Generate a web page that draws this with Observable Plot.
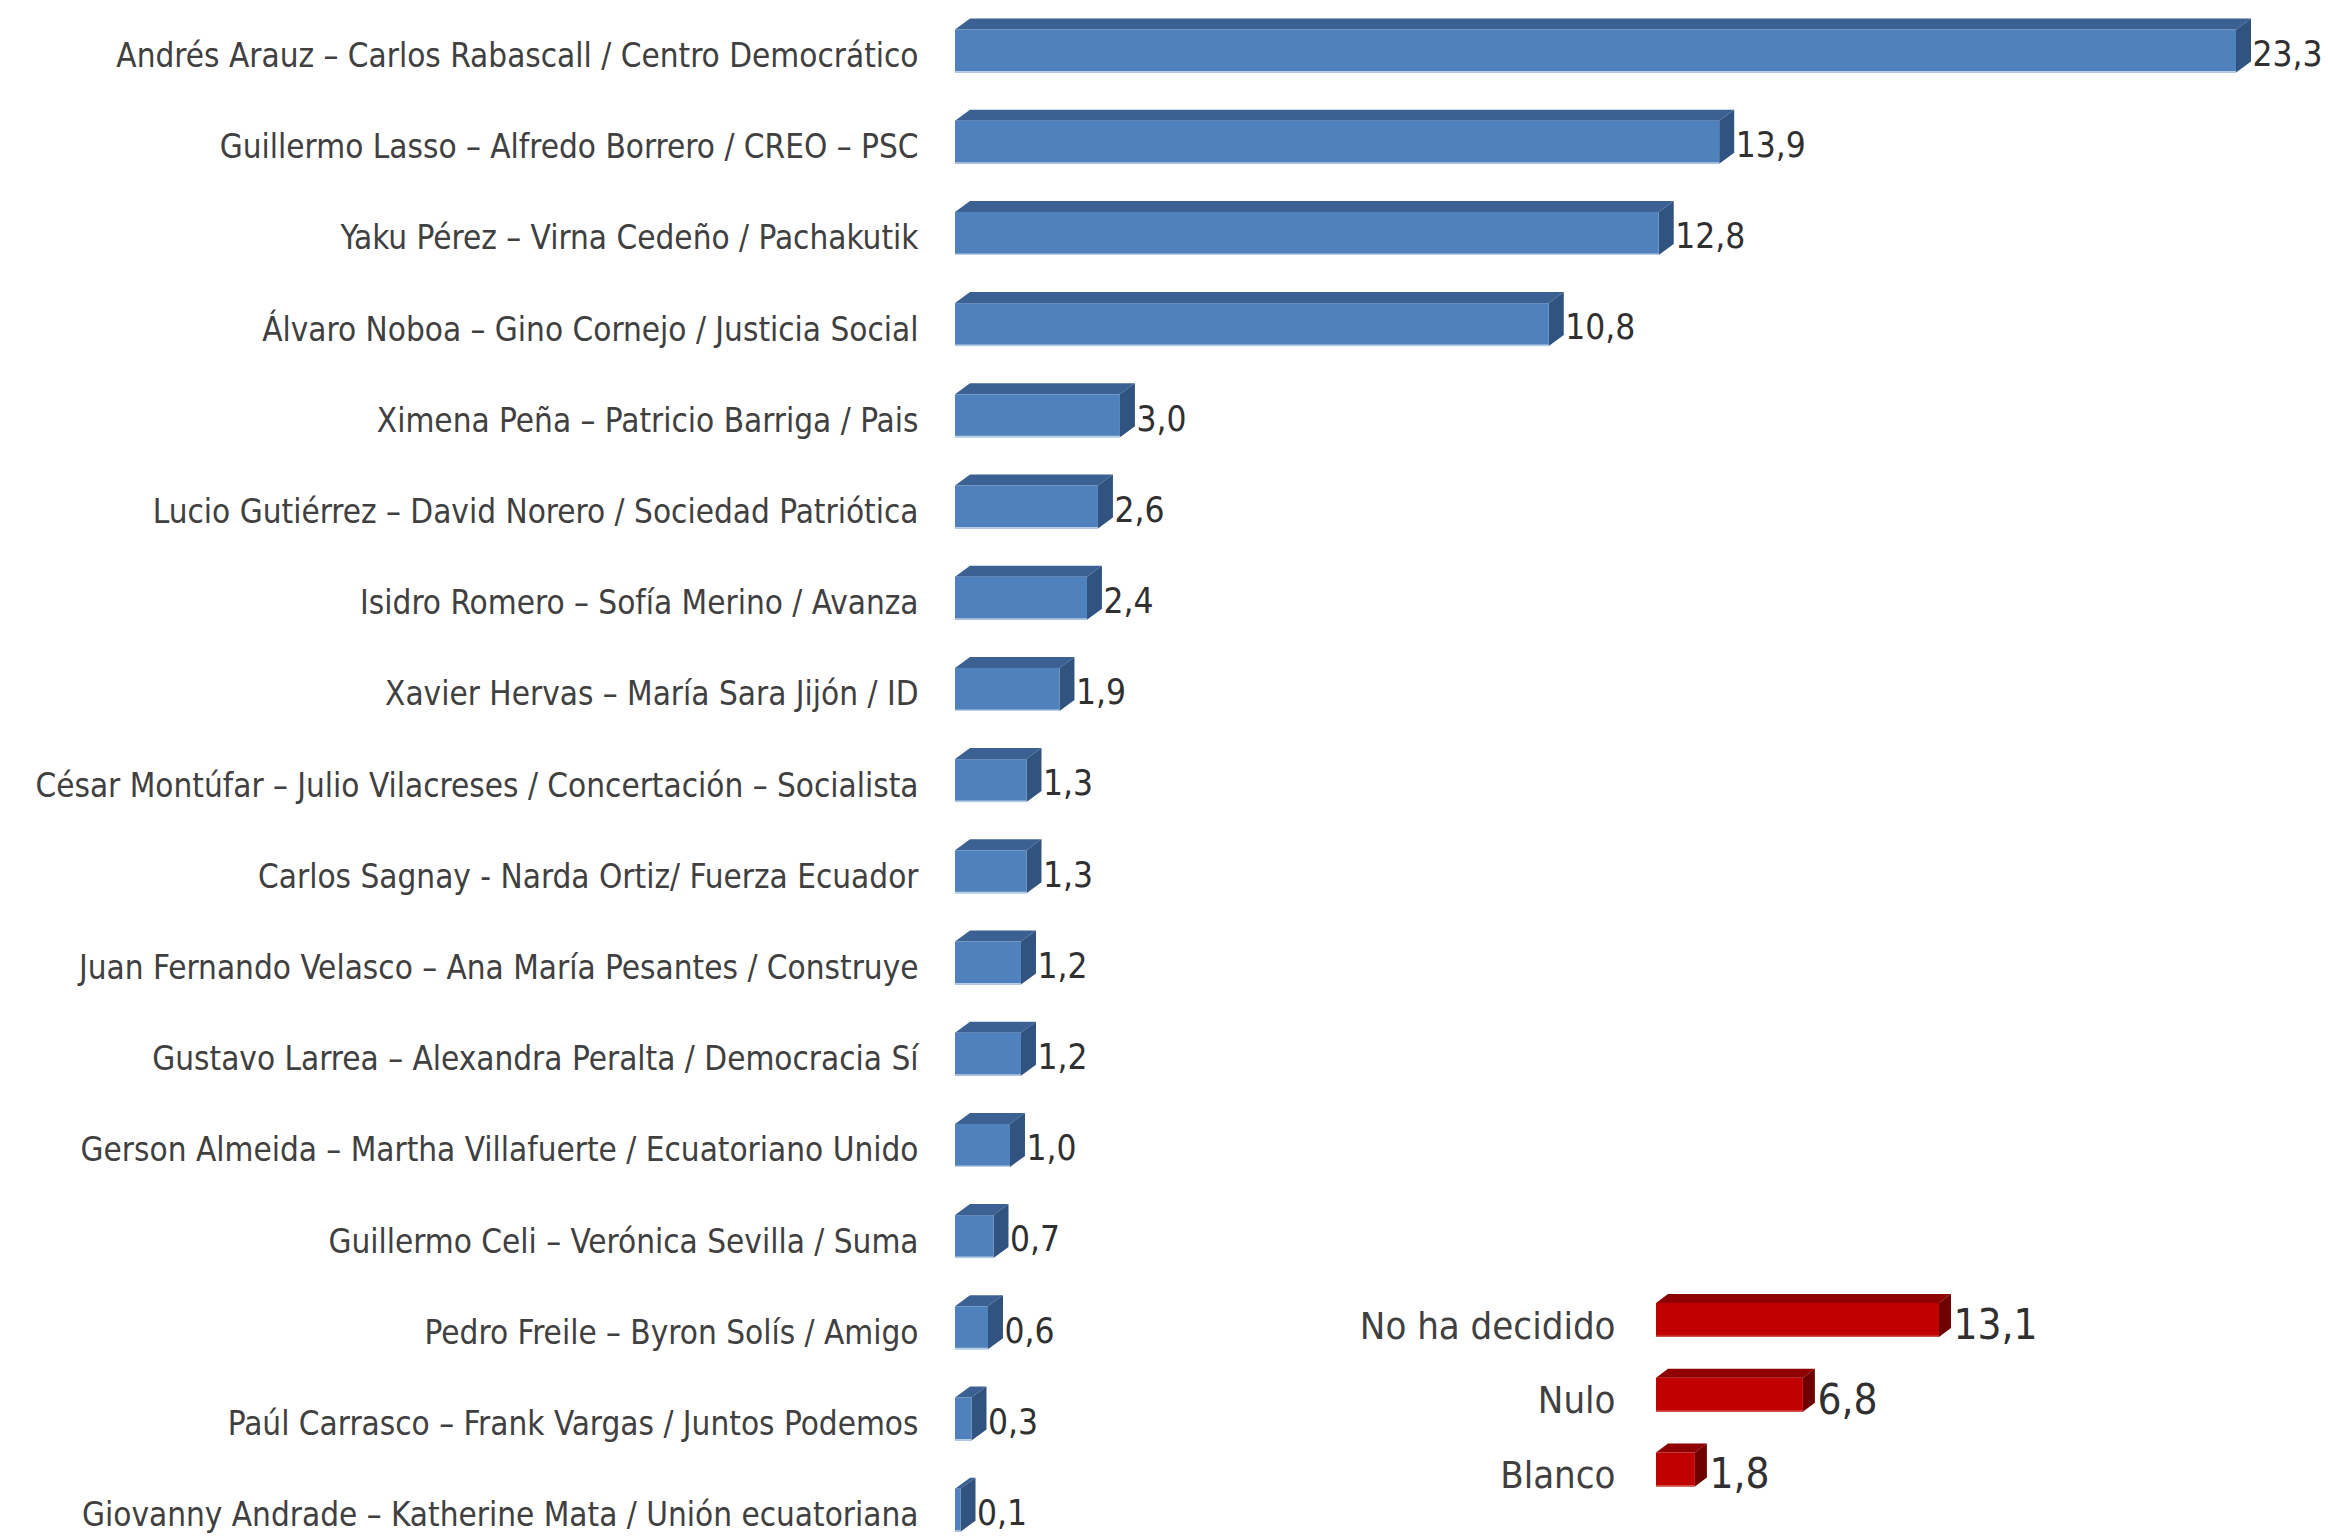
<!DOCTYPE html>
<html><head><meta charset="utf-8">
<script src="https://cdn.jsdelivr.net/npm/d3@7"></script>
<script src="https://cdn.jsdelivr.net/npm/@observablehq/plot@0.6"></script>
<style>
html,body{margin:0;padding:0;background:#fff;}
#wrap{position:relative;width:2328px;height:1537px;overflow:hidden;}
#wrap svg{position:absolute;left:0;top:0;}
#wrap svg text{font-family:"DejaVu Sans",sans-serif;font-stretch:condensed;}
</style></head><body><div id="wrap"></div>
<script>
const candidates = [
  "Andrés Arauz – Carlos Rabascall / Centro Democrático",
  "Guillermo Lasso – Alfredo Borrero / CREO – PSC",
  "Yaku Pérez – Virna Cedeño / Pachakutik",
  "Álvaro Noboa – Gino Cornejo / Justicia Social",
  "Ximena Peña – Patricio Barriga / Pais",
  "Lucio Gutiérrez – David Norero / Sociedad Patriótica",
  "Isidro Romero – Sofía Merino / Avanza",
  "Xavier Hervas – María Sara Jijón / ID",
  "César Montúfar – Julio Vilacreses / Concertación – Socialista",
  "Carlos Sagnay - Narda Ortiz/ Fuerza Ecuador",
  "Juan Fernando Velasco – Ana María Pesantes / Construye",
  "Gustavo Larrea – Alexandra Peralta / Democracia Sí",
  "Gerson Almeida – Martha Villafuerte / Ecuatoriano Unido",
  "Guillermo Celi – Verónica Sevilla / Suma",
  "Pedro Freile – Byron Solís / Amigo",
  "Paúl Carrasco – Frank Vargas / Juntos Podemos",
  "Giovanny Andrade – Katherine Mata / Unión ecuatoriana"
];
const candidateValues = [23.3, 13.9, 12.8, 10.8, 3.0, 2.6, 2.4, 1.9, 1.3, 1.3, 1.2, 1.2, 1.0, 0.7, 0.6, 0.3, 0.1];
const otherCategories = ["No ha decidido", "Nulo", "Blanco"];
const otherValues = [13.1, 6.8, 1.8];

const fmt = v => v.toFixed(1).replace(".", ",");
const blueData = candidates.map((name, i) => ({name, value: candidateValues[i]}));
const redData = otherCategories.map((name, i) => ({name, value: otherValues[i]}));

function box3d({front, top, side, edge, dx, dy}) {
  return function(index, scales, values) {
    const g = d3.create("svg:g");
    const bw = scales.y.bandwidth();
    for (const i of index) {
      const x1 = values.x1[i], x2 = values.x2[i], y0 = values.y[i], y1 = y0 + bw;
      g.append("path")
        .attr("d", `M${x1},${y0}L${x2},${y0}L${x2 + dx},${y0 - dy}L${x1 + dx},${y0 - dy}Z`)
        .attr("fill", top);
      g.append("path")
        .attr("d", `M${x2},${y0}L${x2 + dx},${y0 - dy}L${x2 + dx},${y1 - dy}L${x2},${y1}Z`)
        .attr("fill", side);
      g.append("rect")
        .attr("x", x1).attr("y", y0).attr("width", Math.max(0, x2 - x1)).attr("height", bw)
        .attr("fill", front);
      g.append("line")
        .attr("x1", x1).attr("x2", x2).attr("y1", y1 - 0.75).attr("y2", y1 - 0.75)
        .attr("stroke", edge).attr("stroke-width", 1.5);
    }
    return g.node();
  };
}

const blue = Plot.plot({
  width: 2328, height: 1537,
  marginLeft: 955, marginRight: 92,
  style: {background: "transparent", overflow: "visible"},
  x: {domain: [0, 23.3], axis: null},
  y: {domain: candidates, range: [29.5, 1531.7], paddingInner: 0.5285, paddingOuter: 0, round: false, axis: null},
  marks: [
    Plot.barX(blueData, {x: "value", y: "name", render: box3d({front: "#4F81BD", top: "#3B6192", side: "#30537F", edge: "#B9CDE5", dx: 15, dy: 11})}),
    Plot.axisY({tickSize: 0, tickPadding: 37, fontSize: 33, fill: "#404040", dy: 5, label: null}),
    Plot.text(blueData, {x: "value", y: "name", text: d => fmt(d.value), textAnchor: "start", dx: 16, dy: 3, fontSize: 35, fill: "#303030"})
  ]
});

const red = Plot.plot({
  width: 2328, height: 1537,
  marginLeft: 1656, marginRight: 389,
  style: {background: "transparent", overflow: "visible"},
  x: {domain: [0, 13.1], axis: null},
  y: {domain: otherCategories, range: [1303, 1486.5], paddingInner: 0.545, paddingOuter: 0, round: false, axis: null},
  marks: [
    Plot.barX(redData, {x: "value", y: "name", render: box3d({front: "#C00000", top: "#8E0000", side: "#6E0000", edge: "#D65050", dx: 12, dy: 9})}),
    Plot.axisY({tickSize: 0, tickPadding: 41, fontSize: 38, fill: "#404040", dy: 6, label: null}),
    Plot.text(redData, {x: "value", y: "name", text: d => fmt(d.value), textAnchor: "start", dx: 14, dy: 5, fontSize: 42, fill: "#303030"})
  ]
});

const wrap = document.getElementById("wrap");
wrap.appendChild(blue);
wrap.appendChild(red);
</script></body></html>
